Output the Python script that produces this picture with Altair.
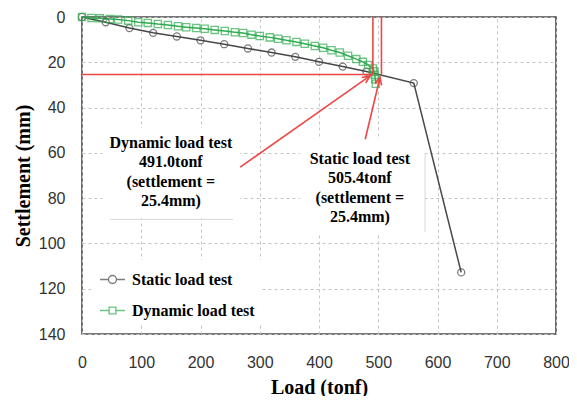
import math
import altair as alt
import pandas as pd

# ---------------- data ----------------
series_names = ["Static load test", "Dynamic load test"]
series_colors = ["#474747", "#2eac4f"]

static_load = [0, 40, 80, 120, 160, 200, 240, 280, 320, 360, 400, 440, 480, 560, 640]
static_settle = [0, 2.3, 4.9, 7.0, 8.6, 10.3, 12.0, 13.9, 15.7, 17.6, 19.8, 21.9, 24.1, 29.2, 112.8]

dyn_load = [0, 16, 30, 47, 61, 78, 95, 111, 128, 145, 162, 176, 193, 207, 224, 241, 258, 272,
            286, 300, 317, 331, 345, 362, 376, 393, 407, 421, 435, 449, 463, 474, 483, 491,
            493, 494, 495, 496]
dyn_settle = [0, 0.4, 0.6, 0.9, 1.1, 1.6, 2.3, 2.6, 3.1, 3.5, 4.1, 4.5, 4.9, 5.2, 5.7, 6.2, 6.7,
              7.1, 7.8, 8.4, 9.0, 9.6, 10.3, 11.0, 11.8, 12.8, 13.6, 14.7, 15.7, 17.1, 18.6,
              19.8, 21.2, 22.7, 24.0, 25.5, 27.5, 29.5]

x_ticks = [0, 100, 200, 300, 400, 500, 600, 700, 800]
y_ticks = [0, 20, 40, 60, 80, 100, 120, 140]

# annotation segments (red): horizontal, two verticals, two arrows
seg_x1 = [0, 491.0, 505.4, 267, 478]
seg_y1 = [25.4, 0, 0, 66.3, 54.0]
seg_x2 = [491.0, 491.0, 505.4, 486, 503]
seg_y2 = [25.4, 25.4, 25.4, 26.0, 26.6]
arrow_rows = [3, 4]

# text boxes (white backgrounds) in data units
box_x1 = [35, 368]
box_x2 = [267, 579]
box_y1 = [49, 54]
box_y2 = [89, 95.5]

# faint box edges
edge_x1 = [47, 579]
edge_x2 = [255, 579]
edge_y1 = [89.4, 60]
edge_y2 = [89.4, 95]

note_text = ["Dynamic load test\n491.0tonf\n(settlement =\n25.4mm)",
             "Static load test\n505.4tonf\n(settlement =\n25.4mm)"]
note_x = [150, 469]
note_y = [52.0, 59.0]

# ---------------- tables ----------------
W, H = 474, 317
XMAX, YMAX = 800, 140

df = pd.concat([
    pd.DataFrame({"load": static_load, "settle": static_settle,
                  "series": series_names[0], "idx": range(len(static_load))}),
    pd.DataFrame({"load": dyn_load, "settle": dyn_settle,
                  "series": series_names[1], "idx": range(len(dyn_load))}),
], ignore_index=True)

seg = pd.DataFrame({"x1": seg_x1, "y1": seg_y1, "x2": seg_x2, "y2": seg_y2})
heads = seg.iloc[arrow_rows].copy()
heads["angle"] = [
    (math.degrees(math.atan2((r.x2 - r.x1) * W / XMAX, (r.y1 - r.y2) * H / YMAX)) + 360) % 360
    for r in heads.itertuples()
]
boxes = pd.DataFrame({"x1": box_x1, "x2": box_x2, "y1": box_y1, "y2": box_y2})
edges = pd.DataFrame({"x1": edge_x1, "x2": edge_x2, "y1": edge_y1, "y2": edge_y2})
notes = pd.DataFrame({"text": note_text, "x": note_x, "y": note_y})

xscale = alt.Scale(domain=[0, XMAX], nice=False)
yscale = alt.Scale(domain=[0, YMAX], reverse=True, nice=False)

x_axis = alt.Axis(values=x_ticks, title="Load (tonf)", labelPadding=20, labelFlush=False,
                  labelOverlap=False, titleX=W / 2, titleY=53, titleBaseline="middle")
y_axis = alt.Axis(values=y_ticks, title="Settlement (mm)", labelPadding=17, labelFlush=False,
                  labelOverlap=False, titleX=-59, titleY=H / 2, titleAngle=270,
                  titleAlign="center", titleBaseline="middle")

color_plain = alt.Color("series:N", scale=alt.Scale(domain=series_names, range=series_colors),
                        legend=None)

base = alt.Chart(df)

lines = base.mark_line(strokeWidth=1.5).encode(
    x=alt.X("load:Q", scale=xscale, axis=x_axis),
    y=alt.Y("settle:Q", scale=yscale, axis=y_axis),
    color=color_plain,
    detail="series:N",
    order="idx:Q",
)

points = base.mark_point(filled=False, strokeWidth=1.3).encode(
    x=alt.X("load:Q", scale=xscale),
    y=alt.Y("settle:Q", scale=yscale),
    color=color_plain,
    shape=alt.Shape("series:N", scale=alt.Scale(domain=series_names, range=["circle", "square"]),
                    legend=None),
    size=alt.Size("series:N", scale=alt.Scale(domain=series_names, range=[50, 52]), legend=None),
)

legend_paths = [
    "M-1,0L-0.32,0M0.32,0L1,0M0.32,0A0.32,0.32,0,1,1,-0.32,0A0.32,0.32,0,1,1,0.32,0",
    "M-1,0L-0.27,0M0.27,0L1,0M-0.27,-0.27L0.27,-0.27L0.27,0.27L-0.27,0.27Z",
]
legend_layer = base.transform_filter("false").mark_point(filled=False, strokeWidth=1.4).encode(
    x=alt.X("load:Q", scale=xscale),
    y=alt.Y("settle:Q", scale=yscale),
    color=alt.Color("series:N", scale=alt.Scale(domain=series_names, range=series_colors),
                    legend=alt.Legend(title=None)),
    shape=alt.Shape("series:N", scale=alt.Scale(domain=series_names, range=legend_paths),
                    legend=alt.Legend(title=None)),
)

box_layer = alt.Chart(boxes).mark_rect(fill="white").encode(
    x=alt.X("x1:Q", scale=xscale), x2="x2:Q",
    y=alt.Y("y1:Q", scale=yscale), y2="y2:Q",
)
edge_layer = alt.Chart(edges).mark_rule(color="#d8d8d8", strokeWidth=1).encode(
    x=alt.X("x1:Q", scale=xscale), x2="x2:Q",
    y=alt.Y("y1:Q", scale=yscale), y2="y2:Q",
)

red = "#f04545"
seg_layer = alt.Chart(seg).mark_rule(color=red, strokeWidth=1.6).encode(
    x=alt.X("x1:Q", scale=xscale), x2="x2:Q",
    y=alt.Y("y1:Q", scale=yscale), y2="y2:Q",
)
head_layer = alt.Chart(heads).mark_point(
    shape="M-0.45,1L0,0L0.45,1", filled=False, color=red, strokeWidth=1.6, size=230, opacity=1
).encode(
    x=alt.X("x2:Q", scale=xscale),
    y=alt.Y("y2:Q", scale=yscale),
    angle=alt.Angle("angle:Q", scale=None),
)

note_layer = alt.Chart(notes).mark_text(
    font="Liberation Serif", fontWeight="bold", fontSize=16, color="black",
    align="center", baseline="top", lineBreak="\n", lineHeight=19.5,
).encode(
    x=alt.X("x:Q", scale=xscale),
    y=alt.Y("y:Q", scale=yscale),
    text="text:N",
)

chart = alt.layer(
    box_layer, edge_layer, lines, points, legend_layer, seg_layer, head_layer, note_layer
).resolve_scale(
    color="independent", shape="independent"
).properties(
    width=W, height=H,
    autosize=alt.AutoSizeParams(type="none"),
    padding={"left": 74, "top": 9, "right": 13, "bottom": 62},
).configure_view(
    stroke="#4a4a4a", strokeWidth=1.6
).configure_axis(
    grid=True, gridColor="#c6c6c6", gridDash=[3, 3], gridWidth=1,
    domain=False, ticks=False,
    labelFont="Liberation Sans", labelFontSize=16, labelColor="#333333",
    titleFont="Liberation Serif", titleFontWeight="bold", titleFontSize=20, titleColor="black",
).configure_legend(
    orient="none", legendX=11, legendY=243, fillColor="white", padding=6,
    symbolSize=625, symbolStrokeWidth=1.4, symbolFillColor="transparent",
    labelFont="Liberation Serif", labelFontWeight="bold", labelFontSize=16, labelColor="black",
    labelOffset=6, rowPadding=9, labelLimit=300,
)

chart.save("out.html", embed_options={"renderer": "svg", "actions": False})
